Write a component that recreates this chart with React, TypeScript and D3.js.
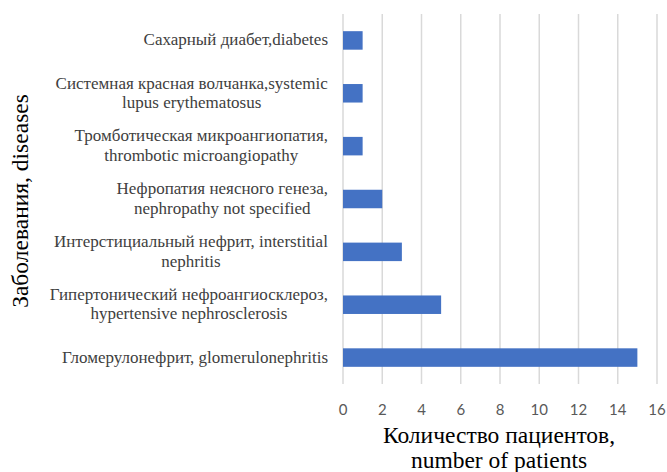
import React, { useLayoutEffect, useRef, useState } from "react";
import * as d3 from "d3";

// categories, top to bottom, each label split into its printed lines
const categories = [
  ["Сахарный диабет,diabetes"],
  ["Системная красная волчанка,systemic", "lupus erythematosus"],
  ["Тромботическая микроангиопатия,", "thrombotic microangiopathy"],
  ["Нефропатия неясного генеза,", "nephropathy not specified"],
  ["Интерстициальный нефрит, interstitial", "nephritis"],
  ["Гипертонический нефроангиосклероз,", "hypertensive nephrosclerosis"],
  ["Гломерулонефрит, glomerulonephritis"],
];
const patients = [1, 1, 1, 2, 3, 5, 15];
const xTicks = [0, 2, 4, 6, 8, 10, 12, 14, 16];
const xTitle = ["Количество пациентов,", "number of patients"];
const yTitle = "Заболевания, diseases";

const serif = '"Liberation Serif"';

const W = 667;
const H = 472;
const left = 343;
const right = 657;
const top = 14;
const bottom = 384;
const labelRight = 328;
const lineH = 19.5;

const keys = categories.map((c) => c.join(" "));
const x = d3.scaleLinear().domain([0, 16]).range([left, right]);
const y = d3
  .scaleBand()
  .domain(keys)
  .range([top, bottom])
  .paddingInner(0.65)
  .paddingOuter(0.325);

const App = () => {
  const labelRefs = useRef<(SVGGElement | null)[]>([]);
  const [widths, setWidths] = useState<number[]>(categories.map(() => 0));

  useLayoutEffect(() => {
    setWidths(labelRefs.current.map((g) => (g ? g.getBBox().width : 0)));
  }, []);

  return (
    <svg width={W} height={H} style={{ position: "absolute", left: 0, top: 0, display: "block" }}>
      <rect width={W} height={H} fill="#fff" />

      {/* gridlines */}
      {xTicks.map((t) => (
        <line key={t} x1={x(t)} x2={x(t)} y1={top} y2={bottom} stroke="#d9d9d9" strokeWidth={1.5} />
      ))}

      {/* bars */}
      {patients.map((v, i) => (
        <rect key={i} x={x(0)} y={y(keys[i])} width={x(v) - x(0)} height={y.bandwidth()} fill="#4472c4" />
      ))}

      {/* tick labels */}
      {xTicks.map((t) => (
        <text
          key={t}
          x={x(t)}
          y={415}
          textAnchor="middle"
          fill="#595959"
          style={{ fontFamily: '"Lato"', fontSize: 15 }}
        >
          {t}
        </text>
      ))}

      {/* category labels: lines centred within a right-aligned block */}
      {categories.map((lines, i) => {
        const cy = (y(keys[i]) as number) + y.bandwidth() / 2;
        const cx = labelRight - widths[i] / 2;
        return (
          <g key={i} ref={(el) => { labelRefs.current[i] = el; }}>
            {lines.map((line, j) => (
              <text
                key={j}
                x={cx}
                y={cy + (j - (lines.length - 1) / 2) * lineH + 5}
                textAnchor="middle"
                fill="#404040"
                style={{ fontFamily: serif, fontSize: 17 }}
              >
                {line}
              </text>
            ))}
          </g>
        );
      })}

      {/* x title */}
      {xTitle.map((line, i) => (
        <text
          key={i}
          x={499}
          y={443 + i * 25}
          textAnchor="middle"
          fill="#000"
          style={{ fontFamily: serif, fontSize: 23.5 }}
        >
          {line}
        </text>
      ))}

      {/* y title */}
      <text
        transform="translate(28,201) rotate(-90)"
        textAnchor="middle"
        fill="#000"
        style={{ fontFamily: serif, fontSize: 23.5 }}
      >
        {yTitle}
      </text>
    </svg>
  );
};

export default App;
